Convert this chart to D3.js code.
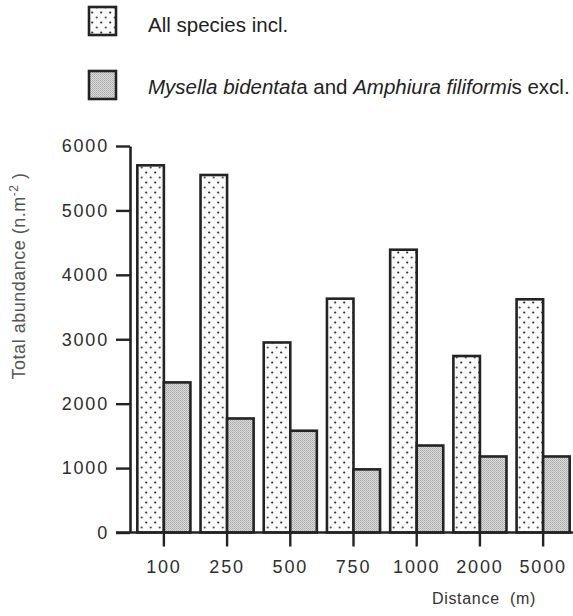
<!DOCTYPE html>
<html>
<head>
<meta charset="utf-8">
<script src="https://cdn.jsdelivr.net/npm/d3@7/dist/d3.min.js"></script>
<style>
  html, body { margin: 0; padding: 0; background: #fff; }
  svg { display: block; font-family: "Liberation Sans", Arial, Helvetica, sans-serif; }
</style>
</head>
<body>
<svg id="chart" width="573" height="616"></svg>
<script>
const categories = ["100", "250", "500", "750", "1000", "2000", "5000"];
const allSpecies = [5700, 5550, 2950, 3630, 4390, 2740, 3620];
const excluded = [2330, 1770, 1580, 980, 1350, 1180, 1180];
const yTicks = [0, 1000, 2000, 3000, 4000, 5000, 6000];
const seriesKeys = ["all", "excl"];
const legendLabels = ["All species incl.", "Mysella bidentata and Amphiura filiformis excl."];
const yLabel = "Total abundance (n.m";
const xLabel = "Distance  (m)";

const svg = d3.select("#chart");
const ink = "#232323";

// patterns
const defs = svg.append("defs");
const dots = defs.append("pattern").attr("id", "dots").attr("patternUnits", "userSpaceOnUse")
  .attr("width", 9).attr("height", 10);
dots.append("rect").attr("width", 9).attr("height", 10).attr("fill", "#fbfbfb");
dots.append("circle").attr("cx", 2.2).attr("cy", 2.5).attr("r", 1.1).attr("fill", "#2e2e2e");
dots.append("circle").attr("cx", 6.7).attr("cy", 7.5).attr("r", 1.1).attr("fill", "#505050");
const grey = defs.append("pattern").attr("id", "grey").attr("patternUnits", "userSpaceOnUse")
  .attr("width", 2).attr("height", 2);
grey.append("rect").attr("width", 2).attr("height", 2).attr("fill", "#dadada");
grey.append("rect").attr("width", 1).attr("height", 1).attr("fill", "#ababab");
grey.append("rect").attr("x", 1).attr("y", 1).attr("width", 1).attr("height", 1).attr("fill", "#b8b8b8");

const fills = { all: "url(#dots)", excl: "url(#grey)" };

const y = d3.scaleLinear().domain([0, 6000]).range([532.5, 146]);
const x = d3.scaleBand().domain(categories).range([131, 576]).paddingInner(0.16).paddingOuter(0.1);
const xs = d3.scaleBand().domain(seriesKeys).range([0, x.bandwidth()]).padding(0);

const rows = categories.map((c, i) => ({ c, all: allSpecies[i], excl: excluded[i] }));

// bars
const g = svg.append("g");
rows.forEach(r => {
  seriesKeys.forEach(k => {
    g.append("rect")
      .attr("x", x(r.c) + xs(k))
      .attr("y", y(r[k]))
      .attr("width", xs.bandwidth())
      .attr("height", y(0) - y(r[k]))
      .attr("fill", fills[k])
      .attr("stroke", ink)
      .attr("stroke-width", 2.6);
  });
});

// y axis
const yAxis = svg.append("g").attr("transform", "translate(130,0)")
  .call(d3.axisLeft(y).tickValues(yTicks).tickFormat(d3.format("d"))
    .tickSize(14).tickSizeOuter(0).tickPadding(7));
yAxis.select(".domain").attr("stroke", ink).attr("stroke-width", 2.6);
yAxis.selectAll(".tick line").attr("stroke", ink).attr("stroke-width", 2.4);
yAxis.selectAll(".tick text").attr("fill", "#2e2e2e").attr("font-size", 18)
  .attr("letter-spacing", 1.8).attr("font-family", "Liberation Sans, Arial, sans-serif");

// x axis
const xAxis = svg.append("g").attr("transform", `translate(0,${y(0)})`)
  .call(d3.axisBottom(x).tickSize(14).tickSizeOuter(0).tickPadding(14));
xAxis.select(".domain").remove();
xAxis.selectAll(".tick line").attr("stroke", ink).attr("stroke-width", 2.4);
xAxis.selectAll(".tick text").attr("fill", "#2e2e2e").attr("font-size", 18)
  .attr("letter-spacing", 1.8).attr("font-family", "Liberation Sans, Arial, sans-serif");

// baseline
svg.append("line").attr("x1", 116).attr("x2", 573).attr("y1", y(0)).attr("y2", y(0))
  .attr("stroke", ink).attr("stroke-width", 2.6);

// y label
const yl = svg.append("text")
  .attr("transform", "translate(25,276) rotate(-90)")
  .attr("text-anchor", "middle").attr("fill", "#555").attr("font-size", 18)
  .attr("letter-spacing", 0.5);
yl.append("tspan").text(yLabel);
yl.append("tspan").attr("baseline-shift", "super").attr("font-size", 12).text("-2");
yl.append("tspan").text(" )");

// x label
svg.append("text").attr("x", 484).attr("y", 604).attr("text-anchor", "middle")
  .attr("fill", "#333").attr("font-size", 16).attr("letter-spacing", 0.7)
  .attr("xml:space", "preserve").style("white-space", "pre").text(xLabel);

// legend
const leg = svg.append("g");
const legY = [7, 71];
seriesKeys.forEach((k, i) => {
  leg.append("rect").attr("x", 89).attr("y", legY[i]).attr("width", 27).attr("height", 28)
    .attr("fill", fills[k]).attr("stroke", ink).attr("stroke-width", 2.6);
});
leg.append("text").attr("x", 148).attr("y", 32).attr("fill", "#222").attr("font-size", 20.5)
  .text(legendLabels[0]);
const t2 = leg.append("text").attr("x", 148).attr("y", 94).attr("fill", "#222").attr("font-size", 20.5);
t2.append("tspan").attr("font-style", "italic").text("Mysella bidentat");
t2.append("tspan").text("a and ");
t2.append("tspan").attr("font-style", "italic").text("Amphiura filiformi");
t2.append("tspan").text("s excl.");
</script>
</body>
</html>
